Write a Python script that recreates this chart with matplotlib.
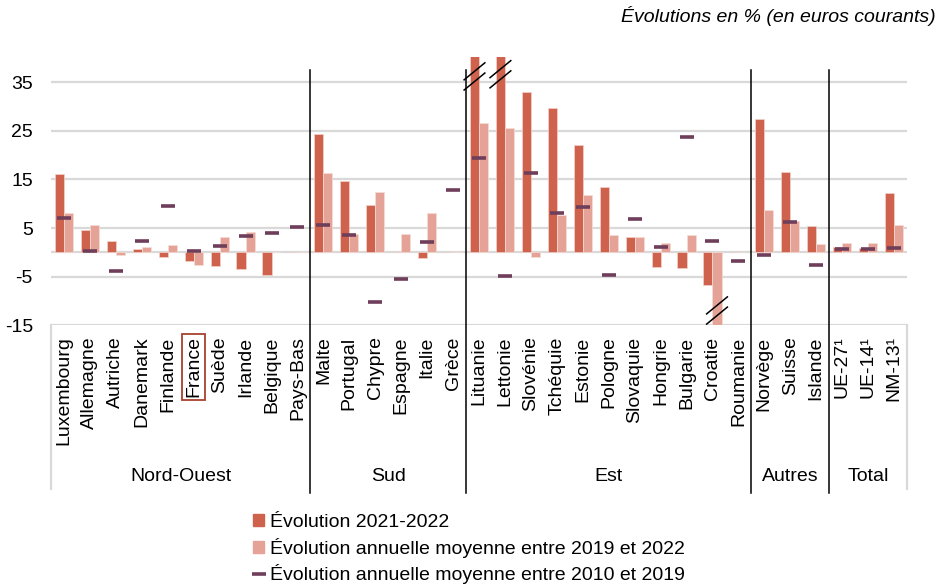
import matplotlib.pyplot as plt
import matplotlib.patches as patches
from matplotlib.lines import Line2D
import numpy as np

plt.rcParams['font.family'] = ['Liberation Sans', 'DejaVu Sans']

# Data
countries = ['Luxembourg', 'Allemagne', 'Autriche', 'Danemark', 'Finlande', 'France',
             'Suède', 'Irlande', 'Belgique', 'Pays-Bas',
             'Malte', 'Portugal', 'Chypre', 'Espagne', 'Italie', 'Grèce',
             'Lituanie', 'Lettonie', 'Slovénie', 'Tchéquie', 'Estonie', 'Pologne',
             'Slovaquie', 'Hongrie', 'Bulgarie', 'Croatie', 'Roumanie',
             'Norvège', 'Suisse', 'Islande',
             'UE-27¹', 'UE-14¹', 'NM-13¹']
evol_2021_2022 = [16.1, 4.6, 2.3, 0.7, -1.0, -1.8, -2.7, -3.4, -4.7, 0.0,
                  24.4, 14.6, 9.7, 0.0, -1.2, 0.0,
                  45.0, 44.0, 33.0, 29.7, 22.0, 13.4, 3.1, -3.0, -3.3, -6.8, 0.0,
                  27.5, 16.6, 5.5,
                  1.1, 0.85, 12.2]
evol_2019_2022 = [8.1, 5.6, -0.45, 1.1, 1.6, -2.6, 3.2, 4.1, 0.0, 0.0,
                  16.4, 3.8, 12.4, 3.8, 8.1, 0.0,
                  26.6, 25.5, -1.0, 7.6, 11.8, 3.6, 3.25, 1.9, 3.6, -17.0, 0.0,
                  8.7, 6.5, 1.7,
                  2.0, 1.9, 5.65]
evol_2010_2019 = [7.0, 0.25, -3.9, 2.3, 9.5, 0.3, 1.3, 3.3, 3.9, 5.2,
                  5.6, 3.5, -10.2, -5.5, 2.1, 12.8,
                  19.4, -4.9, 16.3, 8.1, 9.3, -4.7, 6.8, 1.1, 23.7, 2.3, -1.8,
                  -0.6, 6.2, -2.6,
                  0.65, 0.65, 0.85]
groups = ['Nord-Ouest', 'Sud', 'Est', 'Autres', 'Total']
group_sizes = [10, 6, 11, 3, 3]

c_dark = '#CF624C'
c_light = '#E4A396'
c_dash = '#6E3E5A'
c_grid = '#D9D9D9'

x = np.arange(len(countries))
w = 0.35
ymin, ymax = -15, 40.2

fig = plt.figure(figsize=(9.45, 5.85), dpi=100)
ax = fig.add_axes([0.054, 0.4439, 0.9058, 0.4587])

ax.bar(x - w / 2, evol_2021_2022, w, color=c_dark, edgecolor='#F2D3CB', linewidth=0.5, zorder=2)
ax.bar(x + w / 2, evol_2019_2022, w, color=c_light, edgecolor='#F6DDD7', linewidth=0.5, zorder=2)
ax.plot(x, evol_2010_2019, linestyle='none', marker='_', markersize=10, markeredgewidth=2.6,
        color=c_dash, zorder=3)

ax.set_xlim(-0.5, len(countries) - 0.5)
ax.set_ylim(ymin, ymax)
yt = [-15, -5, 5, 15, 25, 35]
ax.set_yticks(yt)
ax.set_yticklabels([str(v) for v in yt], fontsize=14)
for v in yt + [0]:
    ax.axhline(v, color=c_grid, linewidth=1.6, zorder=1)
for s in ax.spines.values():
    s.set_visible(False)
ax.tick_params(axis='y', length=0, pad=13)
ax.tick_params(axis='x', length=0, pad=8)
ax.set_xticks(x)
ax.set_xticklabels(countries, rotation=90, fontsize=14)

# box around France label
fr = ax.get_xticklabels()[countries.index('France')]
fr.set_bbox(dict(facecolor='none', edgecolor='#A9412F', linewidth=1.3, boxstyle='square,pad=0.15'))

# table-like frame below the plot
trans = ax.get_xaxis_transform()
top_frac = (37.55 - ymin) / (ymax - ymin)
for xe in [-0.5, len(countries) - 0.5]:
    ax.plot([xe, xe], [0, -0.61], color=c_grid, linewidth=1.6, transform=trans, clip_on=False)
start = -0.5
for g, n in zip(groups, group_sizes):
    end = start + n
    ax.text((start + end) / 2, -0.562, g, transform=trans, ha='center', va='center', fontsize=14)
    if end < len(countries) - 0.5:
        ax.plot([end, end], [-0.625, top_frac], color='black', linewidth=1.1,
                transform=trans, clip_on=False, zorder=4)
    start = end

# break marks on clipped bars
breaks = [(16 - w / 2, 36.2), (17 - w / 2, 36.65), (25 + w / 2, -11.95)]
for bx, by in breaks:
    for off in (-1.05, 1.05):
        ax.plot([bx - 0.4, bx + 0.4], [by + off - 1.75, by + off + 1.75], color='black',
                linewidth=1.1, zorder=5, clip_on=False)

fig.text(0.99, 0.972, 'Évolutions en % (en euros courants)', ha='right', va='center',
         fontsize=14, style='italic')

handles = [patches.Patch(color=c_dark), patches.Patch(color=c_light),
           Line2D([], [], linestyle='none', marker='_', markersize=10, markeredgewidth=2.6, color=c_dash)]
labels = ['Évolution 2021-2022', 'Évolution annuelle moyenne entre 2019 et 2022',
          'Évolution annuelle moyenne entre 2010 et 2019']
fig.legend(handles, labels, loc='upper left', bbox_to_anchor=(0.268, 0.121), frameon=False,
           fontsize=14, handlelength=0.55, handleheight=0.55, handletextpad=0.3,
           labelspacing=0.33, borderpad=0, borderaxespad=0,
           bbox_transform=fig.transFigure)

fig.savefig('out.png', dpi=100)
